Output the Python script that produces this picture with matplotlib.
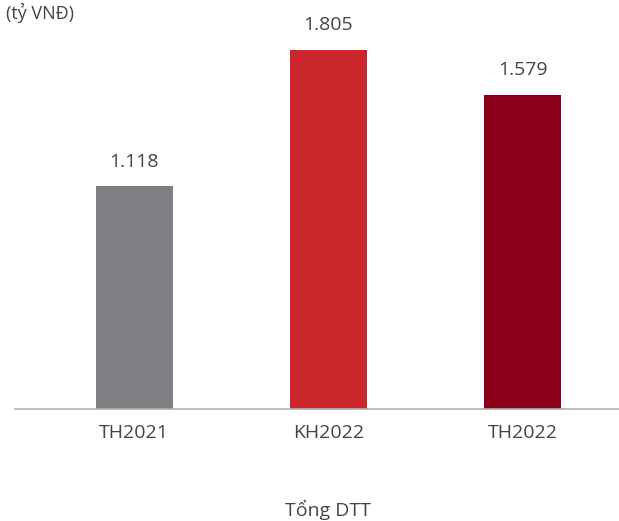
import matplotlib.pyplot as plt

categories = ['TH2021', 'KH2022', 'TH2022']
values = [1118, 1805, 1579]
value_labels = ['1.118', '1.805', '1.579']
colors = ['#808084', '#cc262d', '#8b0019']

plt.rcParams['font.family'] = ['Open Sans', 'DejaVu Sans']

fig = plt.figure(figsize=(6.19, 5.21), dpi=100)
ax = fig.add_axes([15 / 619, 112 / 521, 1 - 15 / 619, 409 / 521])

x = range(len(categories))
ax.bar(x, values, width=0.396, color=colors, zorder=2)

for xi, v, lab in zip(x, values, value_labels):
    ax.text(xi, v + 80, lab, ha='center', va='bottom', fontsize=14, color='#444444')

ax.set_xlim(-0.612, 2.494)
ax.set_ylim(0, 2055)
ax.set_xticks(list(x))
ax.set_xticklabels(categories, fontsize=14, color='#444444')
ax.tick_params(axis='x', length=0, pad=11)
ax.set_yticks([])
for side in ['top', 'right', 'left']:
    ax.spines[side].set_visible(False)
ax.spines['bottom'].set_color('#b0b0b0')
ax.spines['bottom'].set_linewidth(1.2)

fig.text(328 / 619, 1 - 510 / 521, 'Tổng DTT', ha='center', va='center',
         fontsize=14, color='#444444')
fig.text(6 / 619, 1 - 3 / 521, '(tỷ VNĐ)', ha='left', va='top',
         fontsize=13, color='#444444')

fig.savefig('out.png', dpi=100)
